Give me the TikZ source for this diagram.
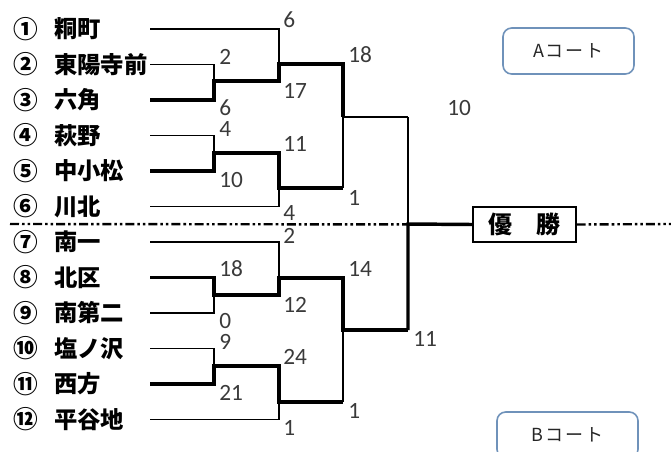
\documentclass[tikz,border=0pt]{standalone}
\usepackage{fontspec}
\newfontfamily\jp{Noto Sans CJK JP}
\newfontfamily\numfont{Carlito}
\usetikzlibrary{positioning}
\definecolor{numgray}{HTML}{3A3A3A}
\definecolor{courtblue}{HTML}{6F92BA}

\begin{document}
\begin{tikzpicture}[x=0.75pt,y=-0.75pt,
    team/.style={anchor=west,inner sep=0pt,font=\jp\bfseries\fontsize{17.5}{20}\selectfont},
    circ/.style={inner sep=0pt,font=\jp\bfseries\fontsize{18.5}{20}\selectfont},
    score/.style={anchor=west,inner sep=0pt,text height=11pt,text depth=0pt,text=numgray,font=\numfont\fontsize{17.5}{18}\selectfont},
    lose/.style={line width=0.9pt},
    win/.style={line width=2.6pt},
    sep/.style={line width=1.8pt,dash pattern=on 6.75pt off 2.25pt on 1.9pt off 2.25pt on 1.9pt off 2.25pt},
    court/.style={draw=courtblue,line width=1.2pt,rounded corners=6.5pt,font=\jp\fontsize{13.5}{15}\selectfont,text=black!85},
    champ/.style={draw,fill=white,line width=1pt,inner sep=0pt,minimum width=77.25pt,minimum height=26.25pt,font=\jp\bfseries\fontsize{18}{20}\selectfont}]
    \useasboundingbox (0,0) rectangle (671,451);
    \clip (0,0) rectangle (671,451);

    \foreach \c/\t [count=\i] in {①/粡町,②/東陽寺前,③/六角,④/萩野,⑤/中小松,⑥/川北,⑦/南一,⑧/北区,⑨/南第二,⑩/塩ノ沢,⑪/西方,⑫/平谷地}{
      \node[circ] (c\i) at (26,{29+35.5*(\i-1)}) {\c};
      \node[team] (t\i) at (54,{29+35.5*(\i-1)}) {\t};
      \coordinate (s\i) at (150,{29+35.5*(\i-1)});
    }

    \coordinate (m1) at (214,81);
    \coordinate (m2) at (279,64);
    \coordinate (m3) at (214,153);
    \coordinate (m4) at (279,188);
    \coordinate (m5) at (343,117);
    \coordinate (m6) at (214,295);
    \coordinate (m7) at (279,278);
    \coordinate (m8) at (214,366);
    \coordinate (m9) at (279,402);
    \coordinate (m10) at (343,330);
    \coordinate (fin) at (408,224);
    \coordinate (left) at (10,224);
    \coordinate (right) at (671,224);

    \node[champ] (champ) at (524.5,224.5) {優　勝};
    \node[court,minimum width=98.25pt,minimum height=34.5pt] (courtA) at (568.5,51) {A\kern1ptコ\kern1.5ptー\kern1.5ptト};
    \node[court,minimum width=105.75pt,minimum height=34.5pt] (courtB) at (567.5,435) {B\kern1ptコ\kern1.5ptー\kern1.5ptト};

    \draw[sep] (left) -- (champ.west);
    \draw[sep] (champ.east) -- (right);

    \draw[lose] (s1) -| (m2);
    \draw[lose] (s2) -| (m1);
    \draw[lose] (s4) -| (m3);
    \draw[lose] (s6) -| (m4);
    \draw[lose] (m4 -| m5) -- (m5);
    \draw[lose] (m5 -| fin) -- (fin);
    \draw[win] (s3) -| (m1) -| (m2) -| (m5);
    \draw[line width=1.8pt] (m5) -- (m5 -| fin);
    \draw[win] (s5) -| (m3) -| (m4) -- (m4 -| m5);

    \draw[lose] (s7) -| (m7);
    \draw[lose] (s9) -| (m6);
    \draw[lose] (s10) -| (m8);
    \draw[lose] (s12) -| (m9);
    \draw[lose] (m9 -| m10) -- (m10);
    \draw[win] (s8) -| (m6) -| (m7) -| (m10) -- (m10 -| fin);
    \draw[win] (m10 -| fin) -- (fin) -- (champ.west);
    \draw[win] (s11) -| (m8) -| (m9) -- (m9 -| m10);

    \foreach \x/\y/\t [count=\k] in {283/20/6,219/57/2,283/91/17,219/108/6,219/129/4,283/144/11,219/180/10,283/213/4,
      348/55/18,447/108/10,348/198/1,
      283/236/2,219/269/18,283/305/12,219/321/0,219/342/9,283/357/24,219/393/21,283/428/1,
      348/269/14,413/339/11,348/411/1}
      \node[score] (sc\k) at (\x,\y) {\t};
  \end{tikzpicture}
\end{document}
